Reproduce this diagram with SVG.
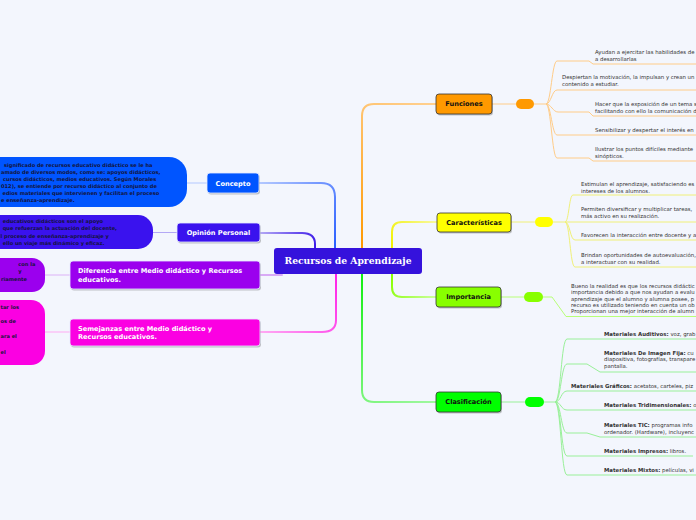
<svg xmlns="http://www.w3.org/2000/svg" width="696" height="520" viewBox="0 0 696 520">
<style>
.t{font-family:"DejaVu Sans",Verdana,sans-serif;font-size:5.4px;fill:#333}
.b{font-weight:bold}
.bt{font-family:"DejaVu Sans",Verdana,sans-serif;font-size:5.1px;font-weight:bold;fill:#14143a}
.nl{font-family:"DejaVu Sans",Verdana,sans-serif;font-size:6.6px;font-weight:bold}
.w{fill:#fff}
.k{fill:#111}
.ln{fill:none;stroke-width:1}
.mc{fill:none;stroke-width:2;stroke-linecap:round}
.sh{fill:#000;opacity:0.22}
.rn{stroke:#333;stroke-width:0.8}
.lnode{stroke:#e6ebff;stroke-width:0.8}
</style>
<defs>
<linearGradient id="gBlue" gradientUnits="userSpaceOnUse" x1="335" y1="248" x2="259" y2="183"><stop offset="0" stop-color="#2a5fff"/><stop offset="1" stop-color="#b3c8ff"/></linearGradient>
<linearGradient id="gViolet" gradientUnits="userSpaceOnUse" x1="315" y1="248" x2="260" y2="233"><stop offset="0" stop-color="#3c1ae8"/><stop offset="1" stop-color="#b3a8f5"/></linearGradient>
<linearGradient id="gPink" gradientUnits="userSpaceOnUse" x1="336" y1="274" x2="260" y2="332"><stop offset="0" stop-color="#ff22e8"/><stop offset="1" stop-color="#ffaaf3"/></linearGradient>
<linearGradient id="gOrange" gradientUnits="userSpaceOnUse" x1="362" y1="248" x2="436" y2="104"><stop offset="0" stop-color="#ff9900"/><stop offset="1" stop-color="#ffd090"/></linearGradient>
<linearGradient id="gYellow" gradientUnits="userSpaceOnUse" x1="392" y1="248" x2="437" y2="222"><stop offset="0" stop-color="#f2f200"/><stop offset="1" stop-color="#f8f8a0"/></linearGradient>
<linearGradient id="gLime" gradientUnits="userSpaceOnUse" x1="392" y1="274" x2="436" y2="297"><stop offset="0" stop-color="#88ff00"/><stop offset="1" stop-color="#ccff9e"/></linearGradient>
<linearGradient id="gGreen" gradientUnits="userSpaceOnUse" x1="362" y1="274" x2="436" y2="402"><stop offset="0" stop-color="#11ee11"/><stop offset="1" stop-color="#a0f8a0"/></linearGradient>
</defs>
<rect x="0" y="0" width="696" height="520" fill="#f3f6fd"/>

<g id="connectors">
<path class="mc" stroke="url(#gBlue)" d="M335,248 L335,197 Q335,183 321,183 L259,183"/>
<path class="mc" stroke="url(#gViolet)" d="M315,248 L315,244 Q315,233 302,233 L260,233"/>
<path class="mc" stroke="#d9aaf6" d="M282,275 L260,275"/>
<path class="mc" stroke="url(#gPink)" d="M336,274 L336,320 Q336,332 322,332 L260,332"/>
<path class="mc" stroke="url(#gOrange)" d="M362,248 L362,116 Q362,104 374,104 L436,104"/>
<path class="mc" stroke="url(#gYellow)" d="M392,248 L392,232 Q392,222 402,222 L437,222"/>
<path class="mc" stroke="url(#gLime)" d="M392,274 L392,287 Q392,297 402,297 L436,297"/>
<path class="mc" stroke="url(#gGreen)" d="M362,274 L362,390 Q362,402 374,402 L436,402"/>
<path class="ln" stroke="#b3c8ff" stroke-width="1.5" d="M186,183 L207,183"/>
<path class="ln" stroke="#b3a8f5" stroke-width="1.5" d="M152,232.5 L177,232.5"/>
<path class="ln" stroke="#dcb2f7" stroke-width="1.5" d="M44,275 L70,275"/>
<path class="ln" stroke="#ffaaf3" stroke-width="1.5" d="M44,332 L70,332"/>
<path class="ln" stroke="#ffcc88" stroke-width="1.5" d="M492,104 L516,104 M534,104 L546,104"/>
<path class="ln" stroke="#ffcc88" d="M546,104 C551,104 552,61 557,61 L589,61 L593,64 L696,64 M546,104 C551,104 552,90 557,90 L696,90 M546,104 C551,104 553,112 558,112 L589,112 L593,116 L696,116 M546,104 C551,104 552,135 557,135 L696,135 M546,104 C551,104 552,158 557,158 L589,158 L593,161 L696,161"/>
<path class="ln" stroke="#f0f078" stroke-width="1.5" d="M511,222 L535,222 M553,222 L565,222"/>
<path class="ln" stroke="#f0f078" d="M565,222 C569,222 569,195 573,195 L696,195 M565,222 L696,222 M565,222 C570,222 570,240 575,240 L696,240 M565,222 C570,222 570,267 575,267 L696,267"/>
<path class="ln" stroke="#b8ff78" stroke-width="1.5" d="M501,297 L524,297"/>
<path class="ln" stroke="#b8ff78" d="M543,297 L552,297 L566,316.5 L696,316.5"/>
<path class="ln" stroke="#99f099" stroke-width="1.5" d="M501,402 L525,402 M544,402 L555,402"/>
<path class="ln" stroke="#99f099" d="M555,402 C561,402 561,339 567,339 L696,339 M555,402 C561,402 561,364 567,364 L587,364 L600,372 L696,372 M555,402 C561,402 561,391 567,391 L696,391 M555,402 C561,402 561,410 567,410 L696,410 M555,402 C561,402 561,433 567,433 L587,433 L600,437 L696,437 M555,402 C561,402 561,456 567,456 L693,456 M555,402 C561,402 561,475 567,475 L696,475"/>
</g>

<g id="center">
<rect x="274" y="248" width="148" height="26" rx="3" fill="#3512dc"/>
<text x="348" y="263.8" text-anchor="middle" font-family="'DejaVu Serif',Georgia,serif" font-weight="bold" font-size="9.2" fill="#fff" textLength="127" lengthAdjust="spacingAndGlyphs">Recursos de Aprendizaje</text>
</g>

<g id="concepto-blob">
<rect x="-30" y="157" width="217" height="50" rx="18" fill="#0055ff"/>
<text class="bt" x="4" y="167">significado de recursos educativo didáctico se le ha</text>
<text class="bt" x="1" y="174">amado de diversos modos, como se: apoyos didácticos,</text>
<text class="bt" x="3" y="181">cursos didácticos, medios educativos. Según Morales</text>
<text class="bt" x="1" y="188">012), se entiende por recurso didáctico al conjunto de</text>
<text class="bt" x="2.5" y="195">edios materiales que intervienen y facilitan el proceso</text>
<text class="bt" x="1" y="202">e enseñanza-aprendizaje.</text>
</g>
<g id="concepto">
<rect class="sh" x="208" y="174.5" width="52" height="20" rx="3"/>
<rect class="lnode" x="207" y="173" width="52" height="20" rx="3" fill="#0055ff"/>
<text class="nl w" x="233" y="185.5" text-anchor="middle">Concepto</text>
</g>

<g id="opinion-blob">
<rect x="-30" y="215" width="183" height="34" rx="15" fill="#3a12ee"/>
<text class="bt" x="2.7" y="222.5">educativos didácticos son el apoyo</text>
<text class="bt" x="2.7" y="230">que refuerzan la actuación del docente,</text>
<text class="bt" x="0.5" y="237.5">l proceso de enseñanza-aprendizaje y</text>
<text class="bt" x="2.7" y="245">ello un viaje más dinámico y eficaz.</text>
</g>
<g id="opinion">
<rect class="sh" x="178" y="224.5" width="83" height="19" rx="3"/>
<rect class="lnode" x="177" y="223" width="83" height="19" rx="3" fill="#3a12ee"/>
<text class="nl w" x="218.5" y="235" text-anchor="middle">Opinión Personal</text>
</g>

<g id="diferencia-blob">
<rect x="-30" y="258" width="75" height="34" rx="13" fill="#9b00ee"/>
<text class="bt" x="18.3" y="266">con la</text>
<text class="bt" x="18.3" y="273">y</text>
<text class="bt" x="1" y="281">riamente</text>
</g>
<g id="diferencia">
<rect class="sh" x="71" y="262.5" width="190" height="28" rx="3"/>
<rect class="lnode" x="70" y="261" width="190" height="28" rx="3" fill="#9b00ee"/>
<text class="nl w" x="78" y="273">Diferencia entre Medio didáctico y Recursos</text>
<text class="nl w" x="78" y="281.7">educativos.</text>
</g>

<g id="semejanzas-blob">
<rect x="-30" y="300" width="75" height="65" rx="14" fill="#fb00e2"/>
<text class="bt" x="0.5" y="308.5">tar los</text>
<text class="bt" x="0.5" y="323">os de</text>
<text class="bt" x="0.5" y="337.5">ara el</text>
<text class="bt" x="0.5" y="353.5">el</text>
</g>
<g id="semejanzas">
<rect class="sh" x="71" y="320.5" width="190" height="27" rx="3"/>
<rect class="lnode" x="70" y="319" width="190" height="27" rx="3" fill="#fb00e2"/>
<text class="nl w" x="78" y="330.7">Semejanzas entre Medio didáctico y</text>
<text class="nl w" x="78" y="339.2">Recursos educativos.</text>
</g>

<g id="funciones">
<rect class="sh" x="437" y="95.5" width="56" height="20" rx="3"/>
<rect class="rn" x="436" y="94" width="56" height="20" rx="3" fill="#ff9900"/>
<text class="nl k" x="464" y="106.4" text-anchor="middle">Funciones</text>
<rect x="516" y="99" width="18" height="10" rx="5" fill="#ff9900"/>
</g>
<g id="funciones-items">
<text class="t" x="595" y="54">Ayudan a ejercitar las habilidades de</text>
<text class="t" x="595" y="61">a desarrollarlas</text>
<text class="t" x="562" y="79">Despiertan la motivación, la impulsan y crean un</text>
<text class="t" x="562" y="86">contenido a estudiar.</text>
<text class="t" x="595" y="106">Hacer que la exposición de un tema s</text>
<text class="t" x="595" y="113">facilitando con ello la comunicación d</text>
<text class="t" x="595" y="132">Sensibilizar y despertar el interés en</text>
<text class="t" x="595" y="151">Ilustrar los puntos difíciles mediante</text>
<text class="t" x="595" y="158">sinópticos.</text>
</g>

<g id="caracteristicas">
<rect class="sh" x="438" y="214.5" width="74" height="19" rx="3"/>
<rect class="rn" x="437" y="213" width="74" height="19" rx="3" fill="#ffff00"/>
<text class="nl k" x="474" y="225" text-anchor="middle">Características</text>
<rect x="535" y="217" width="18" height="10" rx="5" fill="#ffff00"/>
</g>
<g id="caracteristicas-items">
<text class="t" x="581" y="186">Estimulan el aprendizaje, satisfaciendo es</text>
<text class="t" x="581" y="192.8">intereses de los alumnos.</text>
<text class="t" x="581" y="211">Permiten diversificar y multiplicar tareas,</text>
<text class="t" x="581" y="218">más activo en su realización.</text>
<text class="t" x="581" y="237">Favorecen la interacción entre docente y a</text>
<text class="t" x="581" y="257">Brindan oportunidades de autoevaluación,</text>
<text class="t" x="581" y="263.5">a interactuar con su realidad.</text>
</g>

<g id="importancia">
<rect class="sh" x="437" y="288.5" width="65" height="20" rx="3"/>
<rect class="rn" x="436" y="287" width="65" height="20" rx="3" fill="#88ff00"/>
<text class="nl k" x="468.5" y="299.4" text-anchor="middle">Importancia</text>
<rect x="524" y="292" width="19" height="10" rx="5" fill="#88ff00"/>
</g>
<g id="importancia-items">
<text class="t" x="571" y="288">Bueno la realidad es que los recursos didáctic</text>
<text class="t" x="571" y="294.3">importancia debido a que nos ayudan a evalu</text>
<text class="t" x="571" y="300.6">aprendizaje que el alumno y alumna posee, p</text>
<text class="t" x="571" y="306.9">recurso es utilizado teniendo en cuenta un ob</text>
<text class="t" x="571" y="313.2">Proporcionan una mejor interacción de alumn</text>
</g>

<g id="clasificacion">
<rect class="sh" x="437" y="393.5" width="65" height="20" rx="3"/>
<rect class="rn" x="436" y="392" width="65" height="20" rx="3" fill="#00ff00"/>
<text class="nl k" x="468.5" y="404.4" text-anchor="middle">Clasificación</text>
<rect x="525" y="397" width="19" height="10" rx="5" fill="#00ff00"/>
</g>
<g id="clasificacion-items">
<text class="t" x="604" y="336"><tspan class="b">Materiales Auditivos:</tspan> voz, grab</text>
<text class="t" x="604" y="354.5"><tspan class="b">Materiales De Imagen Fija:</tspan> cu</text>
<text class="t" x="604" y="361.2">diapositiva, fotografías, transpare</text>
<text class="t" x="604" y="368">pantalla.</text>
<text class="t" x="571" y="387.5"><tspan class="b">Materiales Gráficos:</tspan> acetatos, carteles, piz</text>
<text class="t" x="604" y="407"><tspan class="b">Materiales Tridimensionales:</tspan> o</text>
<text class="t" x="604" y="427"><tspan class="b">Materiales TIC:</tspan> programas info</text>
<text class="t" x="604" y="433.5">ordenador. (Hardware), incluyenc</text>
<text class="t" x="604" y="453"><tspan class="b">Materiales Impresos:</tspan> libros.</text>
<text class="t" x="604" y="472"><tspan class="b">Materiales Mixtos:</tspan> películas, vi</text>
</g>
</svg>
